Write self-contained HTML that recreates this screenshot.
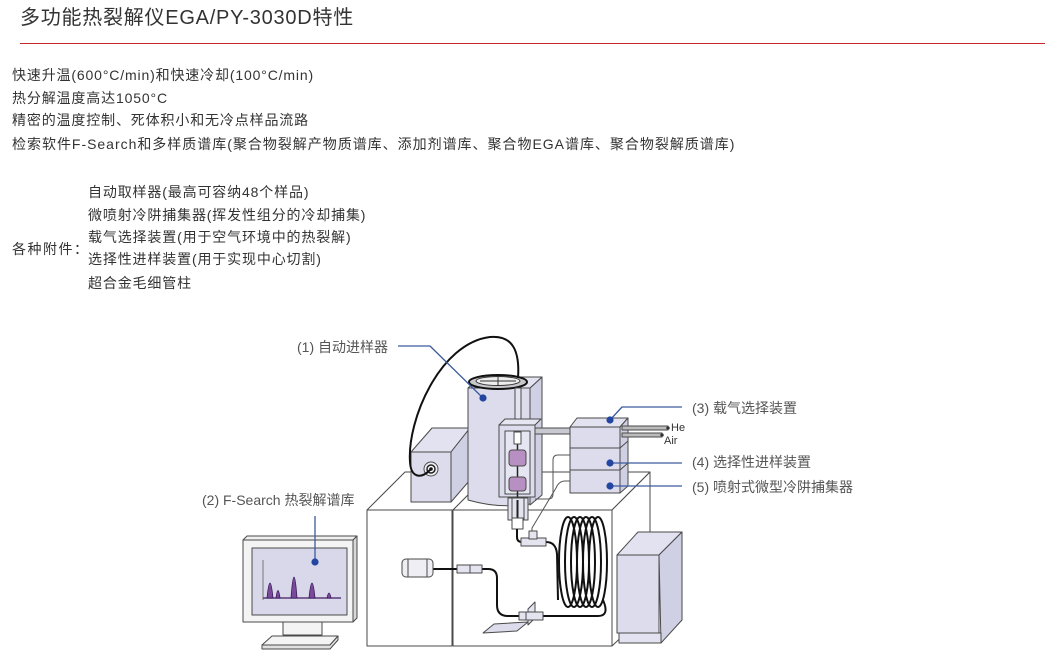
<!DOCTYPE html>
<html><head><meta charset="utf-8">
<style>
html,body{margin:0;padding:0;background:#fff;}
body{width:1061px;height:667px;position:relative;overflow:hidden;font-family:"Liberation Sans","Noto Sans CJK SC",sans-serif;color:#333;}
.t{position:absolute;white-space:nowrap;font-size:14px;line-height:20px;letter-spacing:0.85px;}
.title{position:absolute;left:20px;top:5px;font-size:20px;line-height:26px;letter-spacing:0.75px;white-space:nowrap;color:#333;}
.rule{position:absolute;left:20px;top:43px;width:1025px;height:1px;background:#c8282c;}
svg text{font-family:"Liberation Sans","Noto Sans CJK SC",sans-serif;}
</style></head><body>
<div class="title">多功能热裂解仪EGA/PY-3030D特性</div>
<div class="rule"></div>

<div class="t" style="left:12px;top:65px;">快速升温(600°C/min)和快速冷却(100°C/min)</div>
<div class="t" style="left:12px;top:88px;">热分解温度高达1050°C</div>
<div class="t" style="left:12px;top:110px;">精密的温度控制、死体积小和无冷点样品流路</div>
<div class="t" style="left:12px;top:134px;letter-spacing:0.98px;">检索软件F-Search和多样质谱库(聚合物裂解产物质谱库、添加剂谱库、聚合物EGA谱库、聚合物裂解质谱库)</div>

<div class="t" style="left:88px;top:182px;">自动取样器(最高可容纳48个样品)</div>
<div class="t" style="left:88px;top:205px;">微喷射冷阱捕集器(挥发性组分的冷却捕集)</div>
<div class="t" style="left:88px;top:227px;">载气选择装置(用于空气环境中的热裂解)</div>
<div class="t" style="left:88px;top:249px;">选择性进样装置(用于实现中心切割)</div>
<div class="t" style="left:88px;top:273px;">超合金毛细管柱</div>
<div class="t" style="left:12px;top:239px;letter-spacing:1.5px;">各种附件：</div>

<svg width="1061" height="667" style="position:absolute;left:0;top:0" xmlns="http://www.w3.org/2000/svg">
<g stroke="#4a4a4a" stroke-width="1" stroke-linejoin="round" fill="none">
  <!-- left bench box -->
  <polygon points="367,510 405,472 491,472 453,510" fill="#fff"/>
  <rect x="367" y="510" width="85" height="136" fill="#fff"/>
  <!-- GC box -->
  <polygon points="453,510 491,472 650,472 612,510" fill="#fff"/>
  <polygon points="612,510 650,472 650,610 612,646" fill="#fff"/>
  <rect x="453" y="510" width="159" height="136" fill="#fff"/>

  <!-- small box -->
  <polygon points="411,452 432,428 470,428 451,452" fill="#e2e2f0"/>
  <polygon points="451,452 470,428 470,480 451,502" fill="#cfd0e4"/>
  <rect x="411" y="452" width="40" height="50" fill="#dcdcec"/>
  <circle cx="431" cy="469" r="7" fill="#eeeef4"/>
  <circle cx="431" cy="469" r="4" fill="#fff" stroke="#222" stroke-width="1.5"/>
  <circle cx="431" cy="469" r="1.8" fill="#111" stroke="none"/>

  <!-- tower -->
  <polygon points="530,388 542,377 542,495 530,505" fill="#cfd0e4"/>
  <path d="M468,388 L530,388 L530,504 Q499,509 468,500 Z" fill="#dcdcec"/>
  <polygon points="468,388 480,377 542,377 530,388" fill="#e2e2f0"/>
  <!-- tray -->
  <ellipse cx="498" cy="382" rx="29" ry="7" fill="#c8c8cc" stroke="#111" stroke-width="2"/>
  <ellipse cx="498" cy="381" rx="22" ry="4.5" fill="#eee" stroke="#333"/>
  <line x1="480" y1="381" x2="516" y2="381" stroke="#333"/>
  <line x1="498" y1="377" x2="498" y2="386" stroke="#333"/>
  <!-- rod -->
  <rect x="515" y="388" width="6" height="38" fill="#e4e4f0"/>

  <!-- furnace -->
  <polygon points="499,425 505,419 541,419 535,425" fill="#e6e6f2"/>
  <rect x="499" y="425" width="36" height="72" fill="#dcdcec"/>
  <rect x="505" y="431" width="25" height="63" fill="#e6e6f2"/>
  <line x1="517.5" y1="444" x2="517.5" y2="500" stroke="#222" stroke-width="1.5"/>
  <rect x="514" y="432" width="7" height="12" fill="#fff"/>
  <rect x="509" y="450" width="17" height="16" rx="3" fill="#b88fc2"/>
  <rect x="509" y="477" width="17" height="14" rx="3" fill="#b88fc2"/>
  <!-- injector -->
  <rect x="508" y="498" width="20" height="22" fill="#e4e4f0"/>
  <line x1="512" y1="498" x2="512" y2="520"/>
  <line x1="524" y1="498" x2="524" y2="520"/>
  <line x1="517.5" y1="500" x2="517.5" y2="518" stroke="#222" stroke-width="2"/>
  <rect x="512" y="518" width="11" height="11" fill="#fff"/>

  <!-- tube to stack -->
  <rect x="535" y="428" width="36" height="6" fill="#c8c8d0"/>

  <!-- gray lines -->
  <path d="M535,499 L548,499 Q553,499 553,494 L553,460 Q553,455 558,455 L570,455" stroke="#555"/>
  <path d="M532,534 L532,528 L556,488 Q559,481 565,481 L570,481" stroke="#555"/>

  <!-- stack boxes -->
  <polygon points="570,427 577,418 628,418 620,427" fill="#e2e2f0"/>
  <polygon points="620,427 628,418 628,486 620,493" fill="#cfd0e4"/>
  <rect x="570" y="427" width="50" height="21" fill="#dcdcec"/>
  <rect x="570" y="448" width="50" height="22" fill="#dcdcec"/>
  <rect x="570" y="470" width="50" height="23" fill="#dcdcec"/>
  <line x1="620" y1="448" x2="628" y2="441"/>
  <line x1="620" y1="470" x2="628" y2="463"/>
  <!-- He / Air -->
  <rect x="622" y="426" width="46" height="4" fill="#bbb"/>
  <rect x="622" y="433" width="40" height="4" fill="#bbb"/>
  <circle cx="668" cy="428" r="1.3" fill="#111"/>
  <circle cx="662" cy="435" r="1.3" fill="#111"/>

  <!-- GC tubing -->
  <g stroke="#111" stroke-width="2">
    <path d="M517,529 L517,537 Q517,542 522,542 L546,542"/>
    <path d="M546,542 Q556,542 557,554 L558,600"/>
    <ellipse cx="568" cy="562" rx="9" ry="45"/>
    <ellipse cx="574" cy="562" rx="9" ry="45"/>
    <ellipse cx="580" cy="562" rx="9" ry="45"/>
    <ellipse cx="586" cy="562" rx="9" ry="45"/>
    <ellipse cx="592" cy="562" rx="9" ry="45"/>
    <ellipse cx="598" cy="562" rx="9" ry="45"/>
    <path d="M603,600 Q610,616 598,616 L543,616"/>
    <path d="M521,616 L508,616 Q497,616 497,605 L497,578 Q497,569 488,569 L482,569"/>
    <path d="M457,569 L433,569"/>
  </g>
  <rect x="521" y="538" width="25" height="8" fill="#e4e4f0"/>
  <rect x="529" y="531" width="8" height="8" fill="#e4e4f0"/>
  <polygon points="483,633 494,624 528,622 517,631" fill="#dcdcec"/>
  <polygon points="528,609 535,602 535,618 528,625" fill="#e4e4f0"/>
  <rect x="519" y="612" width="24" height="8" fill="#e4e4f0"/>
  <line x1="526" y1="612" x2="526" y2="620"/>
  <rect x="457" y="565" width="25" height="8" fill="#e4e4f0"/>
  <line x1="470" y1="565" x2="470" y2="573"/>
  <rect x="402" y="559" width="31" height="18" rx="4" fill="#eeeef4"/>
  <line x1="408" y1="559" x2="408" y2="577"/>
  <line x1="427" y1="559" x2="427" y2="577"/>

  <!-- right cabinet -->
  <polygon points="617,555 638,532 682,532 659,555" fill="#e2e2f0"/>
  <polygon points="659,555 682,532 682,620 661,643" fill="#cfd0e4"/>
  <rect x="617" y="555" width="42" height="78" fill="#dcdcec"/>
  <rect x="619" y="633" width="42" height="10" fill="#e2e2f0"/>

  <!-- monitor -->
  <polygon points="243,540 247,536 357,536 353,540" fill="#f0f0f0"/>
  <polygon points="353,540 357,536 357,618 353,622" fill="#d8d8d8"/>
  <rect x="243" y="540" width="110" height="82" fill="#f4f4f4"/>
  <rect x="252" y="548" width="95" height="67" fill="#d8d8ea"/>
  <rect x="283" y="622" width="39" height="13" fill="#f4f4f4"/>
  <polygon points="262,645 272,636 338,636 330,645" fill="#f4f4f4"/>
  <polygon points="262,645 330,645 338,636 338,640 330,649 262,649" fill="#e0e0e0"/>
  <line x1="263" y1="560" x2="263" y2="600" stroke="#777"/>
  <line x1="263" y1="598" x2="341" y2="598" stroke="#5a3a7a" stroke-width="1.5"/>
  <g fill="#7a4a9a" stroke="#3a1a5a" stroke-width="0.8">
    <path d="M267,598 Q270,568 273,598 Z"/>
    <path d="M276,598 Q278,583 280,598 Z"/>
    <path d="M291,598 Q294,556 297,598 Z"/>
    <path d="M309,598 Q312,568 315,598 Z"/>
    <path d="M327,598 Q329,588 331,598 Z"/>
  </g>

  <!-- cable -->
  <path d="M430,470 C421,479 411,478 410,462 C407,420 440,343 490,337 C512,335 520,350 518,378" stroke="#111" stroke-width="2"/>

  <!-- leaders -->
  <g stroke="#3b5b9e" stroke-width="1.3">
    <path d="M398,346 L430,346 L483,398"/>
    <path d="M315,516 L315,562"/>
    <path d="M610,420 L622,407 L682,407"/>
    <path d="M610,463 L682,463"/>
    <path d="M610,486 L682,486"/>
  </g>
  <g fill="#2347a0" stroke="none">
    <circle cx="483" cy="398" r="3.6"/>
    <circle cx="315" cy="562" r="3.6"/>
    <circle cx="610" cy="420" r="3.6"/>
    <circle cx="610" cy="463" r="3.6"/>
    <circle cx="610" cy="486" r="3.6"/>
  </g>
</g>

<g fill="#555" font-size="14">
  <text x="297" y="352">(1) 自动进样器</text>
  <text x="202" y="505">(2) F-Search 热裂解谱库</text>
  <text x="692" y="413">(3) 载气选择装置</text>
  <text x="692" y="467">(4) 选择性进样装置</text>
  <text x="692" y="492">(5) 喷射式微型冷阱捕集器</text>
</g>
<g fill="#333" font-size="11">
  <text x="671" y="431">He</text>
  <text x="664" y="444">Air</text>
</g>
</svg>
</body></html>
